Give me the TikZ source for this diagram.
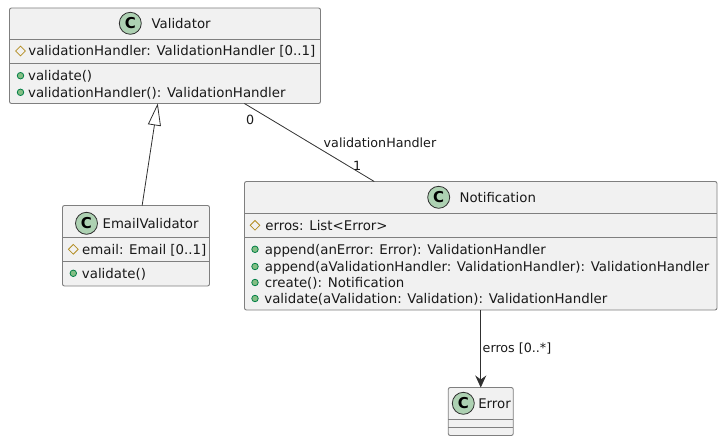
\documentclass[tikz,border=0pt]{standalone}
\usepackage{fontspec}
\setmainfont{DejaVu Sans}
\usepackage{xcolor}
\usetikzlibrary{arrows.meta,positioning,shapes.geometric}
\definecolor{boxfill}{HTML}{F1F1F1}
\definecolor{boxline}{HTML}{7F7F7F}
\definecolor{iconfill}{HTML}{ADD1B2}
\definecolor{fieldcol}{HTML}{B38D22}
\definecolor{methodfill}{HTML}{84BE84}
\definecolor{methodline}{HTML}{038048}
\definecolor{edgecol}{HTML}{303030}

\begin{document}
\begin{tikzpicture}[x=1pt,y=-1pt,
  classbox/.style={draw=boxline,fill=boxfill,rounded corners=2pt,line width=0.9pt,outer sep=0pt,inner sep=0pt},
  sep/.style={draw=boxline,line width=0.9pt},
  icon/.style={circle,draw=edgecol,fill=iconfill,line width=0.8pt,minimum size=22pt,inner sep=0pt,font=\fontsize{15}{15}\selectfont\bfseries},
  title/.style={inner sep=0pt,anchor=west,text height=13pt,text depth=3pt,font=\fontsize{13.3}{15}\selectfont,text=black!90},
  member/.style={inner sep=0pt,anchor=west,text height=13pt,text depth=3pt,font=\fontsize{13.35}{15}\selectfont,text=black!90},
  edgelabel/.style={inner sep=0pt,anchor=west,text height=12pt,text depth=3pt,font=\fontsize{12.7}{14}\selectfont,text=black!90},
  fieldmark/.style={diamond,draw=fieldcol,line width=0.8pt,minimum size=10pt,inner sep=0pt},
  methodmark/.style={circle,draw=methodline,fill=methodfill,line width=0.8pt,minimum size=6.5pt,inner sep=0pt},
  assoc/.style={draw=edgecol,line width=0.8pt}]
\useasboundingbox (0,0) rectangle (722,441);
% classes
\node[classbox,minimum width=311pt,minimum height=95.5pt] (validator) at (165,55.75) {};
\node[classbox,minimum width=147pt,minimum height=80.5pt,below=102pt of validator,xshift=-29pt] (emailvalidator) {};
\node[classbox,minimum width=472.5pt,minimum height=128.5pt,below=78pt of validator,xshift=315.75pt] (notification) {};
\node[classbox,minimum width=65pt,minimum height=48pt,below=77.5pt of notification] (error) {};
% compartments
\foreach \nm/\off in {validator/31.5,validator/55,emailvalidator/32,emailvalidator/55.5,notification/32,notification/55.5,error/31.5,error/39.5}
  \draw[sep] ([yshift=-\off pt]\nm.north west) -- ([yshift=-\off pt]\nm.north east);
% titles
\node[icon] (validatoricon) at (130.3,23.3) {C};
\node[title,right=9.7pt of validatoricon] (validatortitle) {Validator};
\node[icon] (emailicon) at (86.5,223.3) {C};
\node[title,right=4.5pt of emailicon] (emailtitle) {EmailValidator};
\node[icon] (notificationicon) at (438.7,197.3) {C};
\node[title,right=9.3pt of notificationicon] (notificationtitle) {Notification};
\node[icon] (erroricon) at (463.3,403.3) {C};
\node[title,right=3.4pt of erroricon] (errortitle) {Error};
% fields
\foreach \nm/\xx/\yy/\gap/\txt in {vfield/20.5/51/2.3/{validationHandler: ValidationHandler [0..1]},efield/73.3/249.3/3.3/{email: Email [0..1]},nfield/255/225.3/4.8/{erros: List<Error>}}{
  \node[fieldmark] (\nm) at (\xx,\yy) {};
  \node[member,right=\gap pt of \nm] (\nm text) {\txt};
}
% methods
\foreach \nm/\xx/\yy/\gap/\txt in {vvalidate/20.5/75.7/3.8/{validate()},vhandler/20.5/92.3/3.8/{validationHandler(): ValidationHandler},evalidate/73.3/273.3/4.8/{validate()},nappend/255/249.3/6/{append(anError: Error): ValidationHandler},nappendb/255/266.5/6/{append(aValidationHandler: ValidationHandler): ValidationHandler},ncreate/255/282.5/6/{create(): Notification},nvalidate/255/298.5/5.5/{validate(aValidation: Validation): ValidationHandler}}{
  \node[methodmark] (\nm) at (\xx,\yy) {};
  \node[member,right=\gap pt of \nm] (\nm text) {\txt};
}
% connectors
\draw[assoc,-{Triangle[open,fill=white,length=22pt,width=13pt]}] (emailvalidator) -- (validator);
\draw[assoc] (validator) -- (notification);
\draw[assoc,-{Stealth[length=12pt,width=11pt,inset=4pt]}] (notification) -- (error);
% labels
\node[edgelabel] (zerolabel) at (246,120) {0};
\node[edgelabel] (handlerlabel) at (323.5,143) {validationHandler};
\node[edgelabel] (onelabel) at (353,165.5) {1};
\node[edgelabel] (erroslabel) at (482.5,348) {erros [0..*]};
\end{tikzpicture}
\end{document}
